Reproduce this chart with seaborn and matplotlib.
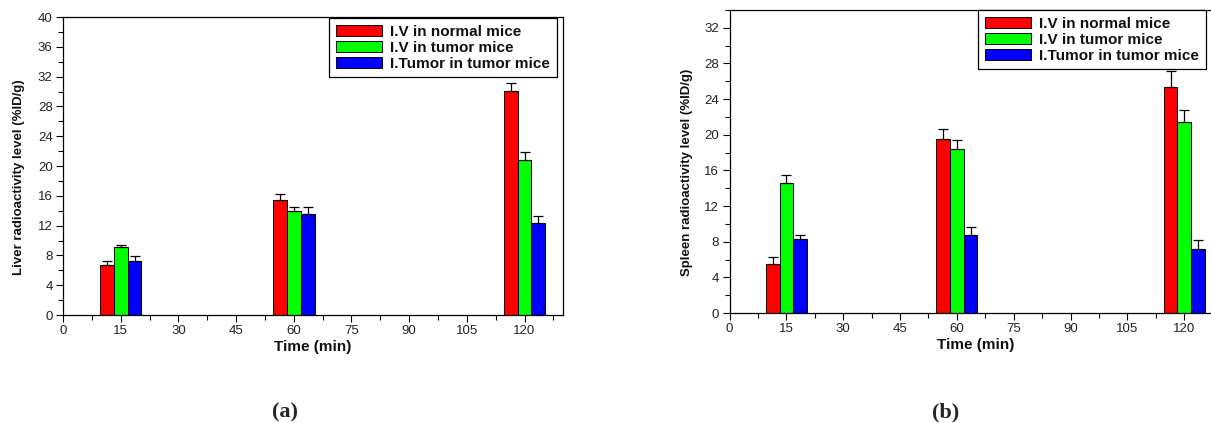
import numpy as np
import pandas as pd
import matplotlib
matplotlib.use("Agg")
import matplotlib.pyplot as plt
from matplotlib.ticker import MultipleLocator
import seaborn as sns

# ---- data ----
times = [15, 60, 120]
groups = ["I.V in normal mice", "I.V in tumor mice", "I.Tumor in tumor mice"]
colors = ["#FF0000", "#00FF00", "#0000FF"]

liver_normal = [6.7, 15.4, 30.1]
liver_tumor = [9.1, 14.0, 20.8]
liver_itumor = [7.2, 13.6, 12.4]
liver_err_normal = [0.6, 0.8, 1.1]
liver_err_tumor = [0.35, 0.5, 1.05]
liver_err_itumor = [0.7, 0.95, 0.85]

spleen_normal = [5.5, 19.5, 25.4]
spleen_tumor = [14.6, 18.4, 21.4]
spleen_itumor = [8.3, 8.8, 7.2]
spleen_err_normal = [0.8, 1.1, 1.8]
spleen_err_tumor = [0.9, 1.0, 1.4]
spleen_err_itumor = [0.5, 0.9, 1.0]

sns.set_theme(style="ticks")
plt.rcParams["font.family"] = ["Liberation Sans", "DejaVu Sans"]

W, H = 1211, 423
fig = plt.figure(figsize=(W / 100, H / 100), dpi=100)
fig.patch.set_facecolor("white")


def px_rect(left, top, right, bottom):
    return [left / W, 1 - bottom / H, (right - left) / W, (bottom - top) / H]


def make_df(vals, errs):
    rows = []
    for g, v, e in zip(groups, vals, errs):
        for t, vv, ee in zip(times, v, e):
            rows.append({"Time": t, "Group": g, "Value": vv, "Err": ee})
    return pd.DataFrame(rows)


def draw(ax, df, ylabel, ylim, xlim, legend_anchor, ylabel_xy):
    sns.barplot(data=df, x="Time", y="Value", hue="Group", hue_order=groups,
                palette=colors, native_scale=True, width=0.24, errorbar=None,
                edgecolor="black", linewidth=0.7, saturation=1, ax=ax)
    # error bars (upper only) placed on the bars seaborn drew
    bars = [p for p in ax.patches if p.get_height() > 0]
    for p in bars:
        cx = p.get_x() + p.get_width() / 2
        h = p.get_height()
        fc = np.array(p.get_facecolor())
        idx = int(np.argmin([np.sum((np.array(matplotlib.colors.to_rgba(c)) - fc) ** 2)
                             for c in colors]))
        sub = df[df["Group"] == groups[idx]]
        ti = int(np.argmin(np.abs(sub["Time"].values - cx)))
        err = sub["Err"].values[ti]
        ax.errorbar(cx, h, yerr=[[0], [err]], fmt="none", ecolor="black",
                    elinewidth=0.9, capsize=3.5, capthick=0.9, zorder=3)
    ax.set_xlim(*xlim)
    ax.set_ylim(*ylim)
    ax.xaxis.set_major_locator(MultipleLocator(15))
    ax.xaxis.set_minor_locator(MultipleLocator(7.5))
    ax.yaxis.set_major_locator(MultipleLocator(4))
    ax.yaxis.set_minor_locator(MultipleLocator(2))
    ax.tick_params(axis="both", which="major", direction="out", length=5, width=0.8,
                   labelsize=9.5, color="black", labelcolor="#222222", pad=2.5)
    ax.tick_params(axis="both", which="minor", direction="out", length=3.3, width=0.8,
                   color="black")
    for s in ax.spines.values():
        s.set_color("black")
        s.set_linewidth(0.9)
        s.set_visible(True)
    ax.set_xlabel("Time (min)", fontsize=11, fontweight="bold", labelpad=1.5,
                  color="#111111")
    ax.set_ylabel(ylabel, fontsize=9.5, fontweight="bold", color="#111111")
    ax.yaxis.set_label_coords(*ylabel_xy)
    lg = ax.get_legend()
    if lg is not None:
        lg.remove()
    handles, labels = ax.get_legend_handles_labels()
    leg = ax.legend(handles, labels, loc="upper right", bbox_to_anchor=legend_anchor,
                    bbox_transform=fig.transFigure, borderaxespad=0,
                    frameon=True, fancybox=False, framealpha=1, edgecolor="black",
                    prop={"weight": "bold", "size": 11}, handlelength=3.0,
                    handleheight=0.75, labelspacing=0.12, handletextpad=0.55,
                    borderpad=0.45)
    leg.get_frame().set_linewidth(0.9)
    for t in leg.get_texts():
        t.set_color("#111111")
    for hnd in leg.legend_handles:
        hnd.set_edgecolor("black")
        hnd.set_linewidth(0.7)


ax1 = fig.add_axes(px_rect(63, 17, 563, 315))
draw(ax1, make_df([liver_normal, liver_tumor, liver_itumor],
                  [liver_err_normal, liver_err_tumor, liver_err_itumor]),
     "Liver radioactivity level (%ID/g)", (0, 40), (0, 130),
     (557 / W, 1 - 18 / H), (-0.076, 0.463))

ax2 = fig.add_axes(px_rect(729.5, 10, 729.5 + 130 * 3.79, 313))
draw(ax2, make_df([spleen_normal, spleen_tumor, spleen_itumor],
                  [spleen_err_normal, spleen_err_tumor, spleen_err_itumor]),
     "Spleen radioactivity level (%ID/g)", (0, 34), (0, 130),
     (1206 / W, 1 - 10 / H), (-0.074, 0.465))

fig.text(285 / W, 1 - 412 / H, "(a)", ha="center", va="center", fontsize=16,
         fontweight="bold", family=["Liberation Serif", "DejaVu Serif"])
fig.text(946 / W, 1 - 412 / H, "(b)", ha="center", va="center", fontsize=16,
         fontweight="bold", family=["Liberation Serif", "DejaVu Serif"])

fig.savefig("out.png", dpi=100, facecolor="white")
